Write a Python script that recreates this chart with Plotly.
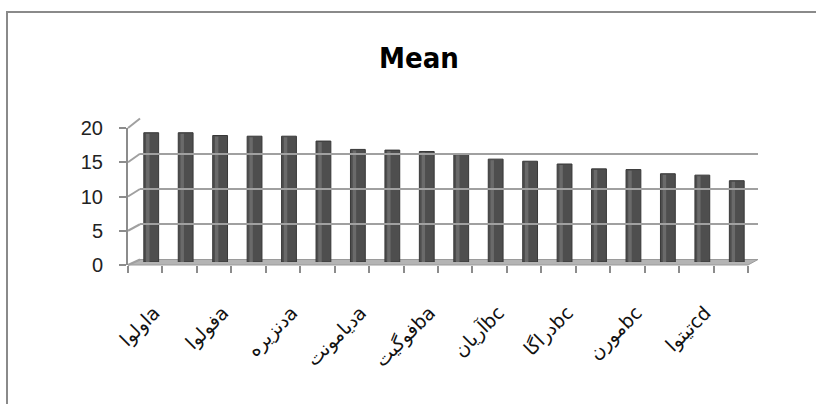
import plotly.graph_objects as go

# ---- data ----
shown_labels = ["اولواa", "فولواa", "دنزیرهa", "دیامونتa", "فوگیتba",
                "آریانbc", "دراگاbc", "مورنbc", "تیتواcd"]
means = [18.6, 18.6, 18.2, 18.1, 18.1, 17.4, 16.2, 16.1, 15.9,
         15.5, 14.8, 14.5, 14.1, 13.4, 13.3, 12.7, 12.5, 11.7]
y_ticks = [0, 5, 10, 15, 20]

W, H = 816, 404
def px(x): return x / W
def py(y): return 1 - y / H

n = len(means)
xs = list(range(n))
label_pos = xs[::2][:len(shown_labels)]

# geometry (pixels)
FX0, FX1, FY0, FY20 = 128, 748, 265, 128     # front axis
BX0, BX1, BY0, BY20 = 140, 758, 259.5, 118.5  # back wall
MX0, MX1, MY0, MY20 = 134, 754, 262, 123     # bar depth

fig = go.Figure()
fig.add_trace(go.Bar(x=xs, y=means, width=0.43, marker=dict(color="#4e4e4e",
                     line=dict(color="#383838", width=1)), xaxis="x", yaxis="y",
                     showlegend=False, hoverinfo="skip"))
fig.add_trace(go.Bar(x=xs, y=[m - 0.15 for m in means], width=0.1, offset=-0.15,
                     marker=dict(color="#6a6a6a", line=dict(width=0)),
                     xaxis="x", yaxis="y", showlegend=False, hoverinfo="skip"))
fig.add_trace(go.Scatter(x=[], y=[], xaxis="x2", yaxis="y2", showlegend=False))
fig.add_trace(go.Scatter(x=[], y=[], xaxis="x3", yaxis="y3", showlegend=False))

rng = [-0.5, n - 0.5]
fig.update_layout(
    width=W, height=H, margin=dict(l=0, r=0, t=0, b=0, pad=0, autoexpand=False),
    paper_bgcolor="white", plot_bgcolor="rgba(0,0,0,0)",
    barmode="overlay",
    title=dict(text="<b>Mean</b>", x=px(419), xanchor="center", y=py(58), yanchor="middle",
               font=dict(family="DejaVu Sans Condensed, Liberation Sans Narrow, Liberation Sans",
                         size=29, color="black")),
    # bars axis
    xaxis=dict(domain=[px(MX0), px(MX1)], range=rng, visible=False, anchor="y"),
    yaxis=dict(domain=[py(MY0), py(MY20)], range=[0, 20], visible=False, anchor="x"),
    # front axis
    xaxis2=dict(domain=[px(FX0), px(FX1)], range=rng, anchor="y2",
                tickvals=label_pos, ticktext=shown_labels, tickangle=-45,
                ticks="", showgrid=False, zeroline=False, showline=False,
                ticklabelshift=9, ticklabelstandoff=32,
                tickfont=dict(family="DejaVu Sans", size=19, color="#111"),
                minor=dict(ticks="outside", tick0=-0.5, dtick=1, ticklen=7,
                           tickcolor="#8c8c8c", tickwidth=2, showgrid=False)),
    yaxis2=dict(domain=[py(FY0), py(FY20)], range=[0, 20], anchor="x2",
                tickvals=y_ticks, ticks="outside", ticklen=7, tickwidth=2,
                tickcolor="#8c8c8c", showgrid=False, zeroline=False,
                showline=True, linecolor="#8c8c8c", linewidth=2,
                ticklabelstandoff=12,
                tickfont=dict(family="Liberation Sans", size=20, color="#222")),
    # back wall
    xaxis3=dict(domain=[px(BX0), px(BX1)], range=rng, anchor="y3", visible=False),
    yaxis3=dict(domain=[py(BY0), py(BY20 - 0.5)], range=[0, 20 + 0.5 * 20 / (BY0 - BY20)],
                anchor="x3", tickvals=y_ticks, showticklabels=False, ticks="",
                showgrid=True, gridcolor="#a0a0a0", gridwidth=2, zeroline=False),
)

shapes = []
# floor
shapes.append(dict(type="path", xref="paper", yref="paper",
                   path=f"M {px(FX0)},{py(FY0)} L {px(FX1)},{py(FY0)} L {px(BX1)},{py(BY0)} L {px(BX0)},{py(BY0)} Z",
                   fillcolor="#b4b4b4", line=dict(color="#9a9a9a", width=1), layer="below"))
# connectors from front axis ticks to back wall
for v in y_ticks:
    yf = FY0 + (FY20 - FY0) * v / 20
    yb = BY0 + (BY20 - BY0) * v / 20
    shapes.append(dict(type="line", xref="paper", yref="paper",
                       x0=px(FX0), y0=py(yf), x1=px(BX0), y1=py(yb),
                       line=dict(color="#a0a0a0", width=2), layer="below"))
# outer frame
shapes.append(dict(type="rect", xref="paper", yref="paper",
                   x0=px(7), y0=py(12), x1=1.02, y1=-0.02,
                   line=dict(color="#8a8a8a", width=2), fillcolor="rgba(0,0,0,0)"))
fig.update_layout(shapes=shapes)

fig.write_html("out.html", config={"displayModeBar": False},
               post_script="document.body.style.margin='0px';document.body.style.overflow='hidden';")
